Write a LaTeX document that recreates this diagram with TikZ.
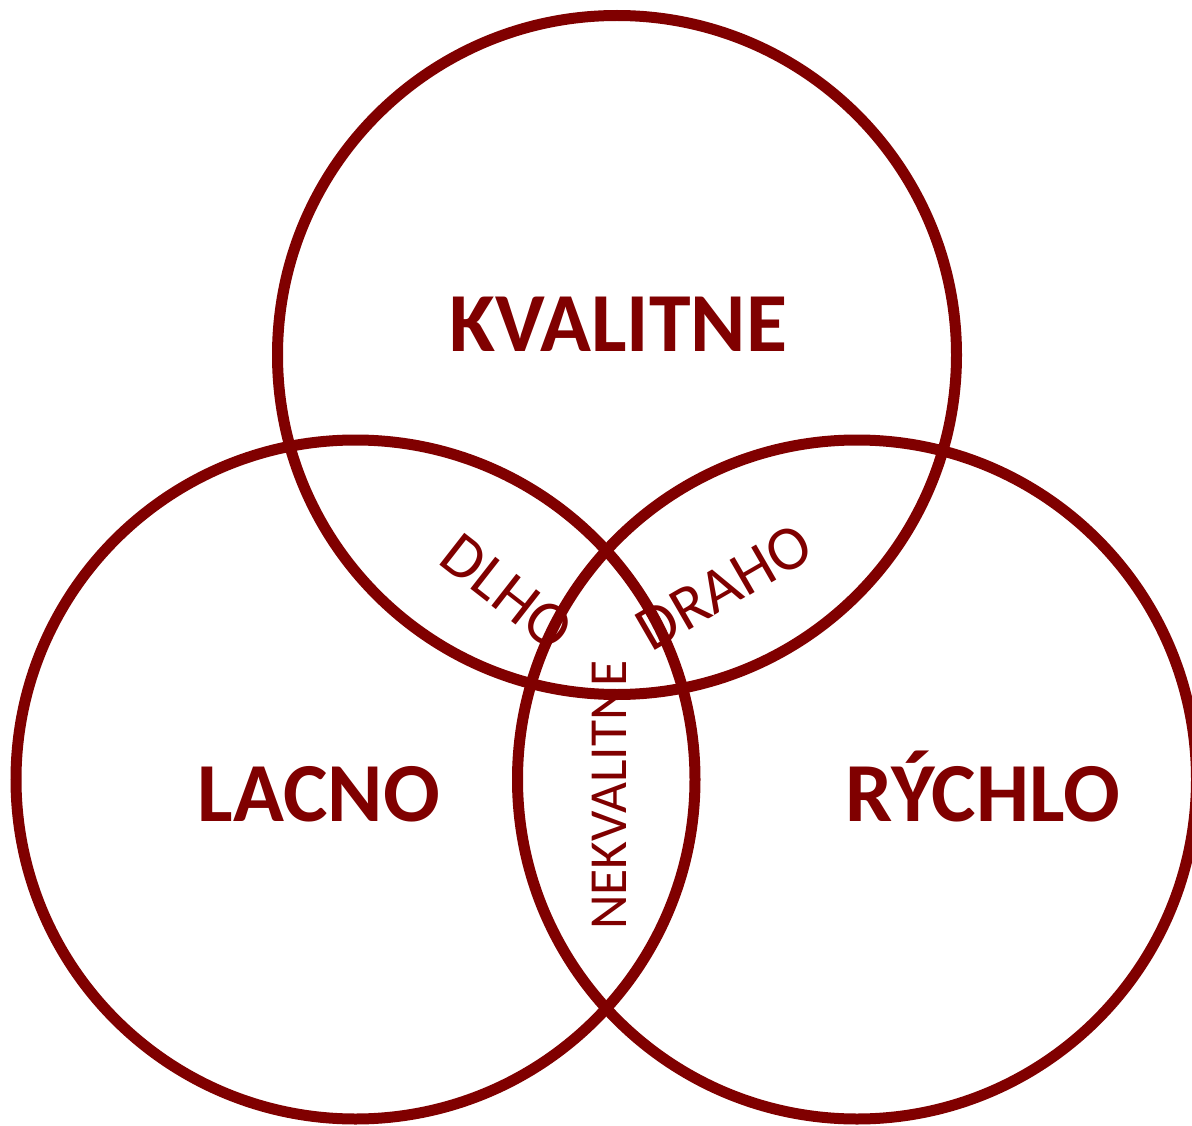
\documentclass[tikz,border=0pt]{standalone}
\usepackage{fontspec}
\setmainfont{Carlito}
\definecolor{maroon}{RGB}{128,0,0}
\begin{document}
\begin{tikzpicture}[x=1pt,y=-1pt,
  ring/.style={draw=maroon,line width=11pt},
  bigtxt/.style={text=maroon,inner sep=0pt,font=\bfseries\fontsize{84}{96}\selectfont},
  smalltxt/.style={text=maroon,inner sep=0pt,font=\fontsize{63}{72}\selectfont},
]
\useasboundingbox (0,0) rectangle (1192,1126);
\fill[white] (0,0) rectangle (1192,1126);
\node[ring,circle,minimum size=679pt,inner sep=0pt] (top) at (617,355) {};
\node[ring,circle,minimum size=679pt,inner sep=0pt] (left) at (355.5,779.5) {};
\node[ring,circle,minimum size=679pt,inner sep=0pt] (right) at (857,779.5) {};
\node[bigtxt,anchor=base] (kval) at (618,351) {KVALITNE};
\node[bigtxt,anchor=base] (lacno) at (319,821) {LACNO};
\node[bigtxt,anchor=base] (rychlo) at (983,821) {RÝCHLO};
\node[smalltxt,rotate=-38] (dlho) at (507,592) {DLHO};
\node[smalltxt,rotate=30] (draho) at (724,587) {DRAHO};
\node[smalltxt,rotate=90,font=\fontsize{53.5}{60}\selectfont] (nekval) at (609,795) {NEKVALITNE};
\end{tikzpicture}
\end{document}
